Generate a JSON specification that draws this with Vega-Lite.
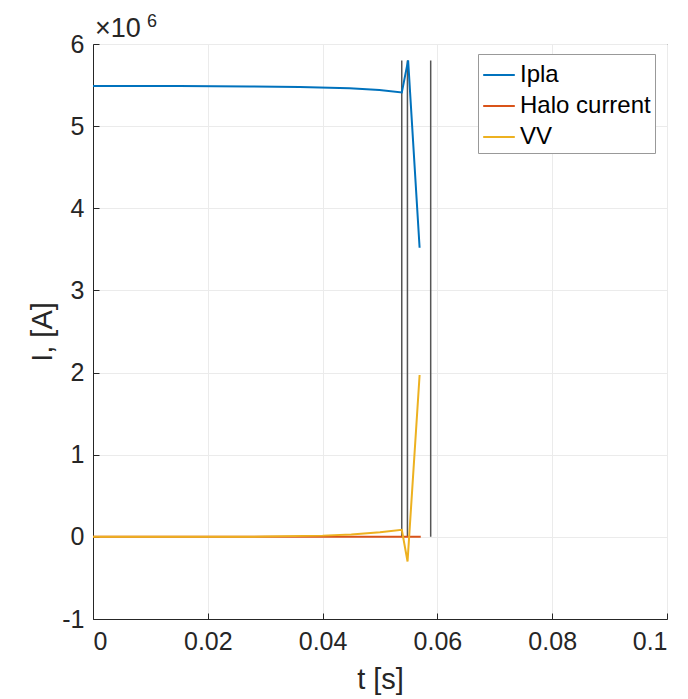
{
  "$schema": "https://vega.github.io/schema/vega-lite/v6.json",
  "width": 574,
  "height": 575,
  "autosize": "none",
  "padding": {"left": 93, "top": 44, "right": 21, "bottom": 80},
  "background": "white",
  "config": {
    "font": "Liberation Sans",
    "view": {"stroke": "#262626", "strokeWidth": 1},
    "axis": {"domainColor": "#262626", "tickColor": "#262626", "labelColor": "#262626", "titleColor": "#262626", "gridColor": "#ebebeb", "labelFontSize": 25, "titleFontSize": 29, "titleFontWeight": "normal", "tickSize": -6, "labelFont": "Liberation Sans", "titleFont": "Liberation Sans"}
  },
  "datasets": {
    "curves": [
      {"series": "Ipla", "t": 0, "I": 5490000},
      {"series": "Ipla", "t": 0.015, "I": 5488000},
      {"series": "Ipla", "t": 0.0273, "I": 5484000},
      {"series": "Ipla", "t": 0.036, "I": 5478000},
      {"series": "Ipla", "t": 0.0447, "I": 5462000},
      {"series": "Ipla", "t": 0.0499, "I": 5440000},
      {"series": "Ipla", "t": 0.0538, "I": 5410000},
      {"series": "Ipla", "t": 0.0549, "I": 5800000},
      {"series": "Ipla", "t": 0.0569, "I": 3520000},
      {"series": "Halo current", "t": 0, "I": 0},
      {"series": "Halo current", "t": 0.03, "I": 0},
      {"series": "Halo current", "t": 0.0571, "I": 0},
      {"series": "VV", "t": 0, "I": 0},
      {"series": "VV", "t": 0.02, "I": 0},
      {"series": "VV", "t": 0.03, "I": 3000},
      {"series": "VV", "t": 0.04, "I": 15000},
      {"series": "VV", "t": 0.045, "I": 30000},
      {"series": "VV", "t": 0.05, "I": 55000},
      {"series": "VV", "t": 0.0538, "I": 85000},
      {"series": "VV", "t": 0.0548, "I": -300000},
      {"series": "VV", "t": 0.0569, "I": 1970000}
    ],
    "markers": [
      {"t": 0.05379, "lo": 0, "hi": 5800000},
      {"t": 0.05478, "lo": 0, "hi": 5800000},
      {"t": 0.05883, "lo": 0, "hi": 5800000}
    ],
    "exponent": [
      {"t": 0, "I": 6000000, "base": "×10", "power": "6"}
    ]
  },
  "layer": [
    {
      "data": {"name": "markers"},
      "mark": {"type": "rule", "color": "#555555", "strokeWidth": 1.5},
      "encoding": {
        "x": {"field": "t", "type": "quantitative", "scale": {"domain": [0, 0.1]}},
        "y": {"field": "lo", "type": "quantitative", "scale": {"domain": [-1000000, 6000000]}},
        "y2": {"field": "hi"}
      }
    },
    {
      "data": {"name": "curves"},
      "mark": {"type": "line", "strokeWidth": 2},
      "encoding": {
        "x": {"field": "t", "type": "quantitative", "title": "t [s]", "scale": {"domain": [0, 0.1], "nice": false},
          "axis": {"values": [0, 0.02, 0.04, 0.06, 0.08, 0.1], "format": "~g", "labelPadding": 16, "titlePadding": 11}},
        "y": {"field": "I", "type": "quantitative", "title": "I, [A]", "scale": {"domain": [-1000000, 6000000], "nice": false},
          "axis": {"values": [-1000000, 0, 1000000, 2000000, 3000000, 4000000, 5000000, 6000000], "labelExpr": "'' + (datum.value/1000000)", "labelPadding": 15, "titlePadding": 4}},
        "color": {"field": "series", "type": "nominal", "title": null,
          "scale": {"domain": ["Ipla", "Halo current", "VV"], "range": ["#0072BD", "#D95319", "#EDB120"]},
          "legend": {"orient": "none", "legendX": 385, "legendY": 10, "symbolType": "stroke", "symbolSize": 1000, "symbolStrokeWidth": 2, "labelFontSize": 24, "labelColor": "#000000", "strokeColor": "#999999", "fillColor": "white", "padding": 4, "rowPadding": 2, "labelOffset": 4, "labelFont": "Liberation Sans"}
        },
        "order": {"field": "t", "type": "quantitative"}
      }
    },
    {
      "data": {"name": "exponent"},
      "mark": {"type": "text", "align": "left", "baseline": "alphabetic", "fontSize": 27, "color": "#262626", "dx": 2, "dy": -7},
      "encoding": {
        "x": {"field": "t", "type": "quantitative"},
        "y": {"field": "I", "type": "quantitative"},
        "text": {"field": "base"}
      }
    },
    {
      "data": {"name": "exponent"},
      "mark": {"type": "text", "align": "left", "baseline": "alphabetic", "fontSize": 18, "color": "#262626", "dx": 54, "dy": -17},
      "encoding": {
        "x": {"field": "t", "type": "quantitative"},
        "y": {"field": "I", "type": "quantitative"},
        "text": {"field": "power"}
      }
    }
  ]
}
